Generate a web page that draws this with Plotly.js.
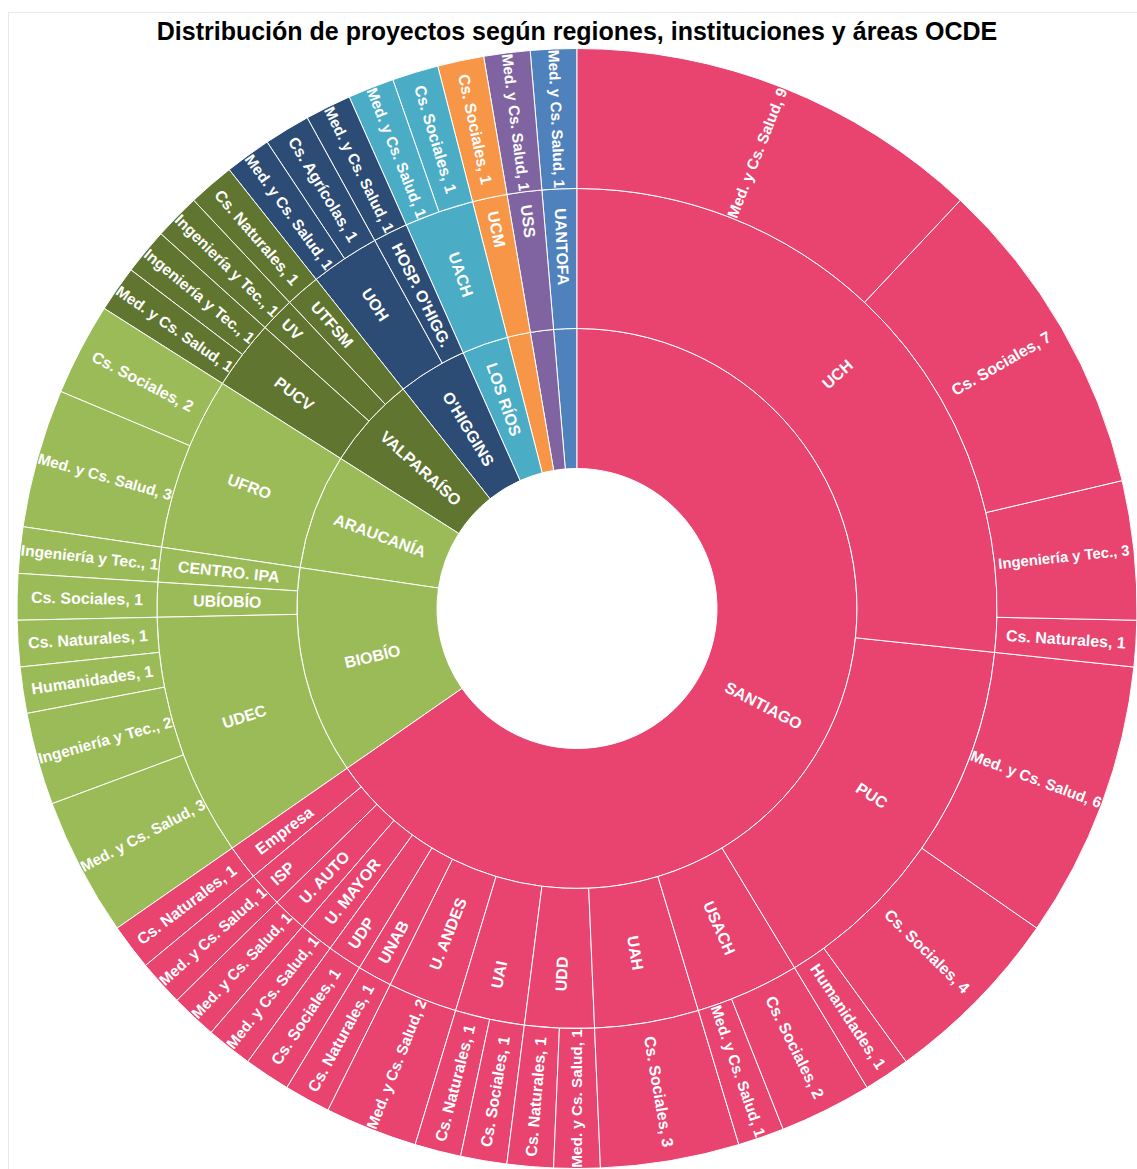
<!DOCTYPE html>
<html>
<head>
<meta charset="utf-8">
<script src="https://cdn.plot.ly/plotly-3.0.1.min.js"></script>
<style>
  html, body { margin: 0; padding: 0; background: #ffffff; overflow: hidden; }
  #frame { position: absolute; left: 8px; top: 12px; width: 1300px; height: 1300px;
           border: 1px solid #e8e8e8; pointer-events: none; z-index: 5; }
  #chart { position: absolute; left: 0; top: 0; width: 1137px; height: 1169px; }
</style>
</head>
<body>
<div id="frame"></div>
<div id="chart"></div>
<script>
// ---- Data (listed clockwise from 12 o'clock) ----
const regionNames  = ["SANTIAGO", "BIOBÍO", "ARAUCANÍA", "VALPARAÍSO", "O'HIGGINS", "LOS RÍOS", "MAULE", "LOS LAGOS", "ANTOFAGASTA"];
const regionColors = ["#E8446F", "#9BBB59", "#9BBB59", "#5F7530", "#2C4C75", "#4BACC6", "#F79646", "#8064A2", "#4F81BD"];
const regionShowLabel = [true, true, true, true, true, true, false, false, false];

const instNames  = ["UCH", "PUC", "USACH", "UAH", "UDD", "UAI", "U. ANDES", "UNAB", "UDP", "U. MAYOR", "U. AUTO", "ISP", "Empresa",
                    "UDEC", "UBÍOBÍO", "CENTRO. IPA",
                    "UFRO",
                    "PUCV", "UV", "UTFSM",
                    "UOH", "HOSP. O'HIGG.",
                    "UACH",
                    "UCM",
                    "USS",
                    "UANTOFA"];
const instRegion = ["SANTIAGO", "SANTIAGO", "SANTIAGO", "SANTIAGO", "SANTIAGO", "SANTIAGO", "SANTIAGO", "SANTIAGO", "SANTIAGO", "SANTIAGO", "SANTIAGO", "SANTIAGO", "SANTIAGO",
                    "BIOBÍO", "BIOBÍO", "BIOBÍO",
                    "ARAUCANÍA",
                    "VALPARAÍSO", "VALPARAÍSO", "VALPARAÍSO",
                    "O'HIGGINS", "O'HIGGINS",
                    "LOS RÍOS",
                    "MAULE",
                    "LOS LAGOS",
                    "ANTOFAGASTA"];

const leafInst  = ["UCH", "UCH", "UCH", "UCH",
                   "PUC", "PUC", "PUC",
                   "USACH", "USACH",
                   "UAH",
                   "UDD", "UDD",
                   "UAI", "UAI",
                   "U. ANDES",
                   "UNAB",
                   "UDP",
                   "U. MAYOR",
                   "U. AUTO",
                   "ISP",
                   "Empresa",
                   "UDEC", "UDEC", "UDEC", "UDEC",
                   "UBÍOBÍO",
                   "CENTRO. IPA",
                   "UFRO", "UFRO",
                   "PUCV", "PUCV",
                   "UV",
                   "UTFSM",
                   "UOH", "UOH",
                   "HOSP. O'HIGG.",
                   "UACH", "UACH",
                   "UCM",
                   "USS",
                   "UANTOFA"];
const leafArea  = ["Med. y Cs. Salud", "Cs. Sociales", "Ingeniería y Tec.", "Cs. Naturales",
                   "Med. y Cs. Salud", "Cs. Sociales", "Humanidades",
                   "Cs. Sociales", "Med. y Cs. Salud",
                   "Cs. Sociales",
                   "Med. y Cs. Salud", "Cs. Naturales",
                   "Cs. Sociales", "Cs. Naturales",
                   "Med. y Cs. Salud",
                   "Cs. Naturales",
                   "Cs. Sociales",
                   "Med. y Cs. Salud",
                   "Med. y Cs. Salud",
                   "Med. y Cs. Salud",
                   "Cs. Naturales",
                   "Med. y Cs. Salud", "Ingeniería y Tec.", "Humanidades", "Cs. Naturales",
                   "Cs. Sociales",
                   "Ingeniería y Tec.",
                   "Med. y Cs. Salud", "Cs. Sociales",
                   "Med. y Cs. Salud", "Ingeniería y Tec.",
                   "Ingeniería y Tec.",
                   "Cs. Naturales",
                   "Med. y Cs. Salud", "Cs. Agrícolas",
                   "Med. y Cs. Salud",
                   "Med. y Cs. Salud", "Cs. Sociales",
                   "Cs. Sociales",
                   "Med. y Cs. Salud",
                   "Med. y Cs. Salud"];
const leafValue = [9, 7, 3, 1,
                   6, 4, 1,
                   2, 1,
                   3,
                   1, 1,
                   1, 1,
                   2,
                   1,
                   1,
                   1,
                   1,
                   1,
                   1,
                   3, 2, 1, 1,
                   1,
                   1,
                   3, 2,
                   1, 1,
                   1,
                   1,
                   1, 1,
                   1,
                   1, 1,
                   1,
                   1,
                   1];

const chartTitle = "Distribución de proyectos según regiones, instituciones y áreas OCDE";

// ---- Build hierarchy ----
const nodes = [];
const colorOf = {};
regionNames.forEach((r, i) => {
  colorOf[r] = regionColors[i];
  nodes.push({ id: "R|" + r, label: r, parent: "ROOT", value: 0, depth: 1,
               text: regionShowLabel[i] ? r : "", color: regionColors[i] });
});
const regionOfInst = {};
instNames.forEach((n, i) => {
  const r = instRegion[i];
  regionOfInst[n] = r;
  nodes.push({ id: "I|" + n, label: n, parent: "R|" + r, value: 0, depth: 2, text: n, color: colorOf[r] });
});
leafInst.forEach((n, i) => {
  nodes.push({ id: "L|" + n + "|" + leafArea[i], label: leafArea[i], parent: "I|" + n, depth: 3,
               value: leafValue[i], text: leafArea[i] + ", " + leafValue[i],
               color: colorOf[regionOfInst[n]] });
});

// ---- Angular extent of each node (clockwise from 12 o'clock, data order) ----
const total = leafValue.reduce((a, b) => a + b, 0);
const sumOf = {};
nodes.slice().reverse().forEach(d => {
  sumOf[d.id] = (sumOf[d.id] || 0) + d.value;
  if (d.parent && d.parent !== "ROOT") sumOf[d.parent] = (sumOf[d.parent] || 0) + sumOf[d.id];
});
const startOf = { ROOT: 0 };
const cursor = {};
nodes.forEach(d => {
  const p = d.parent;
  const base = (p === "ROOT") ? 0 : startOf[p];
  if (cursor[p] === undefined) cursor[p] = base;
  startOf[d.id] = cursor[p];
  cursor[p] += sumOf[d.id];
});

// Plot geometry (from the layout below): 4 rings incl. the blank centre.
const W = 1137, H = 1169, M = { l: 17, r: 0, t: 48, b: 0 };
const plotW = W - M.l - M.r, plotH = H - M.t - M.b;
const rMax = Math.min(plotW, plotH) / 2;
const ringW = rMax / 4;
const fontFam = "Arial, 'Liberation Sans', sans-serif";
const ctx = document.createElement("canvas").getContext("2d");
ctx.font = "bold 16px Arial, 'Liberation Sans', sans-serif";

// Labels whose slice crosses 3 or 9 o'clock are placed radially at their mid-angle.
const annotations = [];
nodes.forEach(d => {
  if (!d.text) return;
  const a0 = startOf[d.id] / total * 360, a1 = (startOf[d.id] + sumOf[d.id]) / total * 360;
  const crosses = (a0 < 90 && 90 < a1) || (a0 < 270 && 270 < a1);
  if (!crosses) return;
  const mid = (a0 + a1) / 2, rad = mid * Math.PI / 180;
  const rc = ringW * (d.depth + 0.5);
  let ang = mid - 90;
  if (ang > 90) ang -= 180;
  if (ang < -90) ang += 180;
  const wText = ctx.measureText(d.text).width;
  const size = Math.min(16, 16 * (ringW - 8) / wText);
  annotations.push({
    xref: "paper", yref: "paper",
    x: 0.5 + rc * Math.sin(rad) / plotW, y: 0.5 + rc * Math.cos(rad) / plotH,
    xanchor: "center", yanchor: "middle", showarrow: false,
    text: d.text, textangle: ang,
    font: { family: fontFam, size: size, color: "#ffffff", weight: "bold" }
  });
  d.text = "";
});

// Plotly lays siblings out counterclockwise; reverse so they read clockwise from 12 o'clock.
nodes.reverse();
// Blank central root, drawn white to leave the hole in the middle.
nodes.unshift({ id: "ROOT", label: "Total", parent: "", value: 0, text: "", color: "#ffffff" });

const trace = {
  type: "sunburst",
  ids: nodes.map(d => d.id),
  labels: nodes.map(d => d.label),
  parents: nodes.map(d => d.parent),
  values: nodes.map(d => d.value),
  text: nodes.map(d => d.text),
  branchvalues: "remainder",
  textinfo: "text",
  insidetextorientation: "radial",
  sort: false,
  rotation: 90,
  leaf: { opacity: 1 },
  marker: { colors: nodes.map(d => d.color), line: { color: "#ffffff", width: 1 } },
  textfont: { family: fontFam, size: 16, color: "#ffffff", weight: "bold" },
  hoverinfo: "label+value"
};

const layout = {
  width: W, height: H,
  margin: M,
  paper_bgcolor: "rgba(0,0,0,0)",
  title: {
    text: chartTitle,
    x: 0.5, xref: "paper", xanchor: "center",
    y: 1 - 31 / H, yref: "container", yanchor: "middle",
    font: { family: fontFam, size: 25, color: "#000000", weight: "bold" }
  },
  annotations: annotations,
  showlegend: false
};

Plotly.newPlot("chart", [trace], layout, { displayModeBar: false, responsive: false });
</script>
</body>
</html>
